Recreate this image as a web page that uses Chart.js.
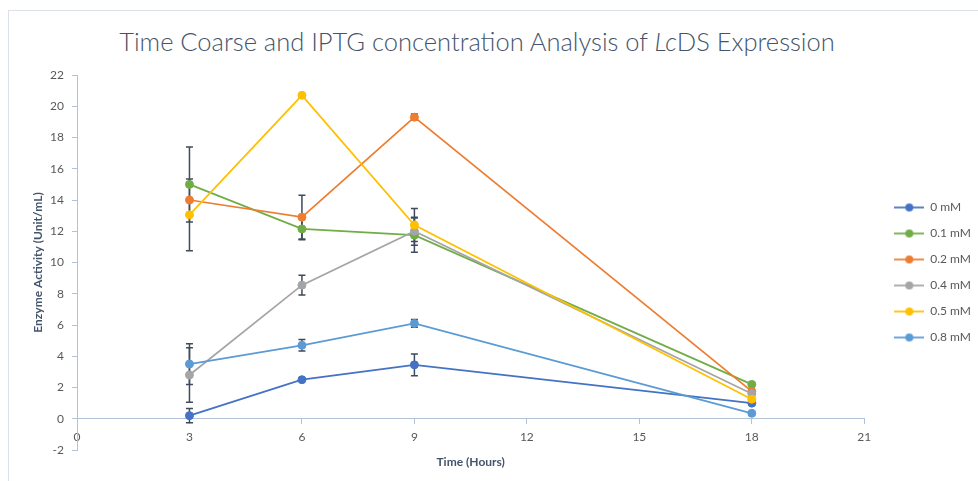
<!DOCTYPE html>
<html><head><meta charset="utf-8">
<script src="https://cdn.jsdelivr.net/npm/chart.js@4.4.1/dist/chart.umd.min.js"></script>
<style>
html,body{margin:0;padding:0;background:#fff;width:978px;height:481px;overflow:hidden;}
#frame{position:absolute;left:8px;top:10px;width:990px;height:490px;border-left:1px solid #DCE0E8;border-top:1px solid #DCE0E8;}
#title{position:absolute;left:0;width:954px;top:25px;line-height:32px;text-align:center;font-family:Lato,'Open Sans',sans-serif;font-size:25.5px;font-weight:300;color:#44546A;white-space:nowrap;}
canvas{position:absolute;left:0;top:0;}
</style></head><body>
<div id="frame"></div>
<div id="title">Time Coarse and IPTG concentration Analysis of <i>Lc</i>DS Expression</div>
<canvas id="c" width="978" height="481"></canvas>
<script>
// ---- data ----
const times = [3, 6, 9, 18];
const seriesLabels = ['0 mM', '0.1 mM', '0.2 mM', '0.4 mM', '0.5 mM', '0.8 mM'];
const mM0    = [0.2, 2.5, 3.45, 1.0];
const mM0Err = [0.45, 0, 0.7, 0];
const mM01    = [15.0, 12.15, 11.75, 2.2];
const mM01Err = [2.4, 0.7, 1.1, 0];
const mM02    = [14.0, 12.9, 19.3, 1.75];
const mM02Err = [0, 1.4, 0.2, 0];
const mM04    = [2.8, 8.55, 12.0, 1.6];
const mM04Err = [1.75, 0.63, 0.9, 0];
const mM05    = [13.05, 20.7, 12.4, 1.25];
const mM05Err = [2.3, 0.1, 1.05, 0];
const mM08    = [3.5, 4.7, 6.1, 0.35];
const mM08Err = [1.3, 0.37, 0.25, 0];
const xTicks = [0, 3, 6, 9, 12, 15, 18, 21];
const yTicks = [-2, 0, 2, 4, 6, 8, 10, 12, 14, 16, 18, 20, 22];

const seriesValues = [mM0, mM01, mM02, mM04, mM05, mM08];
const seriesErrors = [mM0Err, mM01Err, mM02Err, mM04Err, mM05Err, mM08Err];
const seriesColors = ['#4472C4', '#70AD47', '#ED7D31', '#A5A5A5', '#FFC000', '#5B9BD5'];

const FONT = "Lato, 'Open Sans', sans-serif";
const AXIS_COLOR = '#B4C2D8';
const TEXT_COLOR = '#595959';
const TITLE_COLOR = '#44546A';
const ERR_COLOR = '#404A5A';

// legend sample images (line with marker)
function legendSample(color) {
  const cv = document.createElement('canvas');
  cv.width = 30; cv.height = 10;
  const g = cv.getContext('2d');
  g.strokeStyle = color; g.lineWidth = 1.75;
  g.beginPath(); g.moveTo(0, 5); g.lineTo(30, 5); g.stroke();
  g.fillStyle = color;
  g.beginPath(); g.arc(15, 5, 4, 0, Math.PI * 2); g.fill();
  return cv;
}

const datasets = seriesLabels.map((label, i) => ({
  label,
  data: times.map((t, j) => ({x: t, y: seriesValues[i][j]})),
  borderColor: seriesColors[i],
  backgroundColor: seriesColors[i],
  pointBackgroundColor: seriesColors[i],
  pointBorderColor: seriesColors[i],
  pointRadius: 4,
  pointBorderWidth: 1,
  borderWidth: 1.75,
  tension: 0,
  order: seriesLabels.length - i,
  errors: seriesErrors[i]
}));

const errorBars = {
  id: 'errorBars',
  beforeDatasetsDraw(chart) {
    const ctx = chart.ctx;
    const xs = chart.scales.x, ys = chart.scales.y;
    ctx.save();
    ctx.strokeStyle = ERR_COLOR;
    ctx.lineWidth = 1.5;
    chart.data.datasets.forEach(ds => {
      ds.data.forEach((p, j) => {
        const e = ds.errors[j];
        if (!e) return;
        const x = xs.getPixelForValue(p.x);
        const y1 = ys.getPixelForValue(p.y - e);
        const y2 = ys.getPixelForValue(p.y + e);
        ctx.beginPath();
        ctx.moveTo(x, y1); ctx.lineTo(x, y2);
        ctx.moveTo(x - 3.5, y1); ctx.lineTo(x + 3.5, y1);
        ctx.moveTo(x - 3.5, y2); ctx.lineTo(x + 3.5, y2);
        ctx.stroke();
      });
    });
    ctx.restore();
  }
};

const LEGEND_DX = 16, LEGEND_DY = 10;
const legendNudge = {
  id: 'legendNudge',
  afterLayout(chart) {
    const lg = chart.legend;
    if (!lg) return;
    lg.left += LEGEND_DX; lg.right += LEGEND_DX;
    lg.top += LEGEND_DY; lg.bottom += LEGEND_DY;
  }
};

new Chart(document.getElementById('c'), {
  type: 'line',
  data: {datasets},
  plugins: [errorBars, legendNudge],
  options: {
    responsive: false,
    animation: false,
    layout: {padding: {left: 27, top: 75, right: 13, bottom: 31}},
    plugins: {
      title: {display: false},
      tooltip: {enabled: false},
      legend: {
        position: 'right',
        labels: {
          usePointStyle: true,
          pointStyleWidth: 30,
          padding: 14,
          color: TEXT_COLOR,
          font: {family: FONT, size: 12},
          generateLabels(chart) {
            return chart.data.datasets.map((ds, i) => ({
              text: ds.label,
              pointStyle: legendSample(ds.borderColor),
              fillStyle: ds.borderColor,
              strokeStyle: ds.borderColor,
              lineWidth: 0,
              hidden: false,
              datasetIndex: i,
              fontColor: TEXT_COLOR
            }));
          }
        }
      }
    },
    scales: {
      x: {
        type: 'linear',
        position: {y: 0},
        min: 0, max: 21,
        afterBuildTicks(s) { s.ticks = xTicks.map(v => ({value: v})); },
        grid: {drawOnChartArea: false, drawTicks: true, tickLength: 5, color: AXIS_COLOR},
        border: {display: true, color: AXIS_COLOR, width: 1},
        ticks: {color: TEXT_COLOR, font: {family: FONT, size: 12}, padding: 6, maxRotation: 0},
        title: {display: true, text: 'Time (Hours)', color: TITLE_COLOR, font: {family: FONT, size: 12, weight: 'bold'}, padding: {top: 5, bottom: 4}}
      },
      y: {
        type: 'linear',
        min: -2, max: 22,
        afterBuildTicks(s) { s.ticks = yTicks.map(v => ({value: v})); },
        afterFit(s) { s.width = 50; },
        grid: {drawOnChartArea: false, drawTicks: true, tickLength: 5, color: AXIS_COLOR},
        border: {display: true, color: AXIS_COLOR, width: 1},
        ticks: {color: TEXT_COLOR, font: {family: FONT, size: 12}, padding: 8},
        title: {display: true, text: 'Enzyme Activity (Unit/mL)', color: TITLE_COLOR, font: {family: FONT, size: 12, weight: 'bold'}, padding: {top: 4, bottom: 4}}
      }
    }
  }
});
</script>
</body></html>
